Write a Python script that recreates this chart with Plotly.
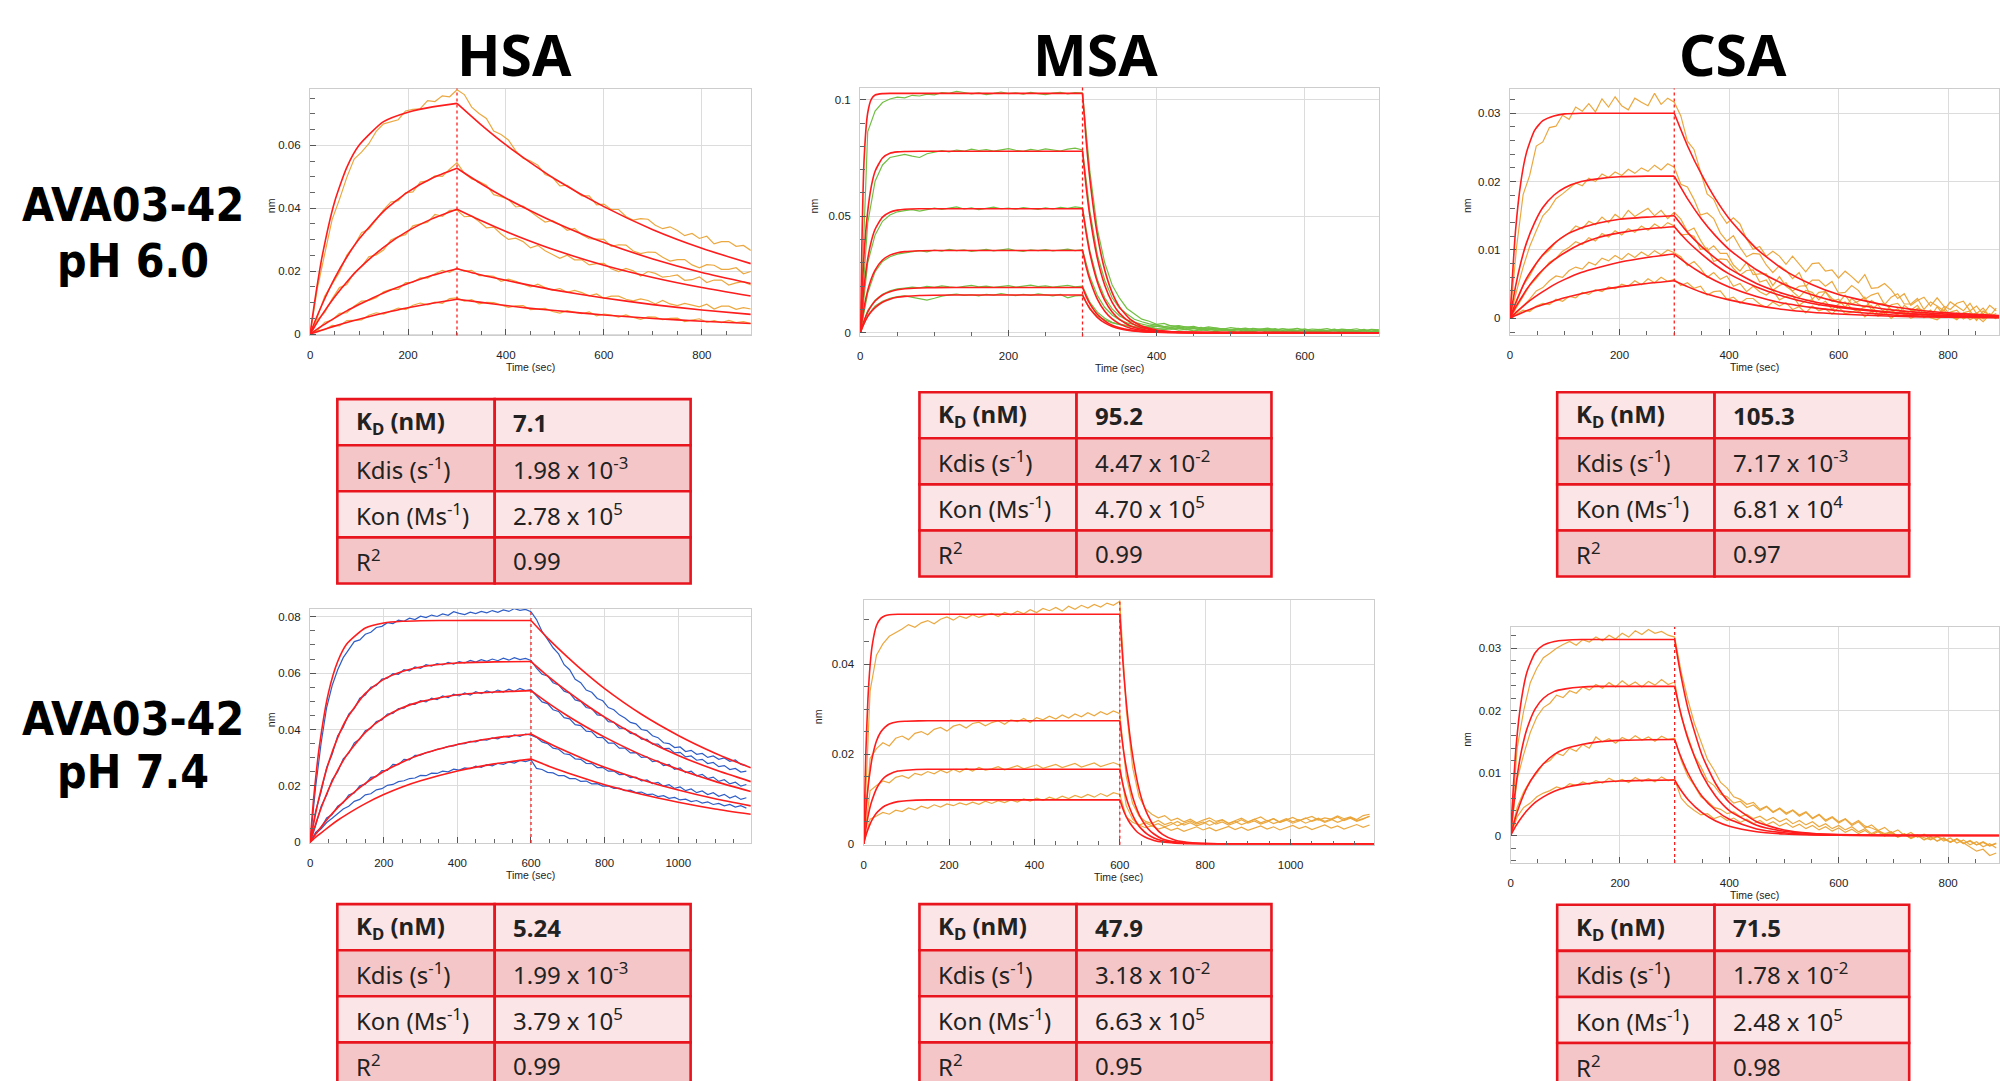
import plotly.graph_objects as go

W, H = 2000, 1081
U = 1e-4  # all curve values below are in units of 1e-4 nm

# ---------------- HSA pH 6.0 ----------------
HSA6_RAW_STEP = 15
HSA6_RAW = [
    [0,146,256,364,428,498,556,578,605,644,668,675,681,709,714,716,742,739,757,754,776,761,721,701,685,645,634,617,582,559,550,537,507,498,471,473,455,439,439,411,413,396,396,374,362,367,365,346,335,341,329,313,320,304,311,287,294,294,279,282,266],
    [3,55,121,160,197,251,281,322,334,364,395,420,424,449,452,483,487,503,501,524,545,511,493,485,473,443,437,428,404,407,388,372,356,361,348,330,336,316,303,303,301,279,284,283,264,256,261,260,244,232,237,237,220,211,221,219,206,206,211,192,199],
    [-2,46,69,112,148,158,195,215,246,252,267,299,310,316,344,350,356,380,374,393,394,373,375,358,338,340,318,301,305,294,274,282,265,253,241,251,236,236,220,224,225,208,199,209,201,185,199,193,181,184,188,171,173,182,164,172,172,156,163,167,156],
    [1,12,38,45,66,68,89,105,107,116,135,142,142,164,165,179,178,192,203,196,210,200,203,186,186,184,168,175,168,158,150,159,148,140,145,133,139,132,122,128,114,121,121,111,106,112,107,96,107,96,91,98,93,87,95,80,89,89,79,84,80],
    [0,11,14,28,26,43,44,45,60,68,64,74,83,78,92,99,93,102,98,113,115,105,110,96,101,100,92,85,90,91,78,81,82,72,67,75,71,65,71,58,64,61,54,61,53,47,55,54,46,50,51,40,45,49,38,43,37,44,37,40,34],
]
HSA6_FIT_T_ON = [0, 10, 25, 50, 75, 100, 150, 200, 250, 300]
HSA6_FIT_ON = [
    [0, 110, 250, 420, 530, 600, 675, 705, 722, 733],
    [0, 41, 96, 177, 245, 302, 390, 452, 496, 527],
    [0, 26, 63, 118, 166, 208, 276, 328, 367, 397],
    [0, 11, 27, 51, 74, 94, 131, 161, 187, 208],
    [0, 5.5, 13, 25.6, 37, 47.6, 67, 84, 98, 111],
]
HSA6_FIT_T_OFF = [300, 350, 400, 450, 500, 600, 700, 800, 900]
HSA6_FIT_OFF = [
    [733, 664, 601, 545, 493, 405, 332, 273, 224],
    [527, 477, 432, 392, 355, 291, 239, 196, 161],
    [397, 360, 326, 295, 267, 219, 180, 148, 121],
    [208, 188, 171, 155, 140, 115, 94, 77, 63],
    [111, 101, 91, 82, 75, 61, 50, 41, 34],
]

# ---------------- MSA pH 6.0 ----------------
MSA6_RAW_STEP = 10
MSA6_RAW = [
    [0,862,951,988,1003,1011,1008,1019,1016,1024,1021,1030,1027,1036,1031,1025,1029,1022,1027,1033,1026,1029,1024,1031,1026,1022,1028,1032,1025,1030,1028,
     690,445,300,205,148,104,80,58,49,36,40,28,31,24,27,19,25,21,16,22,18,13,19,15,20,12,17,14,19,11,16,13,18,10,15,12,17,9,14,12],
    [0,470,650,720,752,760,765,758,752,768,775,781,776,784,779,788,782,786,779,785,790,783,778,787,782,789,784,780,788,792,784,
     520,335,225,150,105,80,58,47,38,33,26,30,22,25,18,23,15,20,17,12,19,14,10,16,13,18,9,14,11,16,8,13,10,15,7,12,9,14,6,11],
    [0,300,420,478,505,519,524,528,522,530,535,529,533,540,531,536,528,534,539,532,535,530,537,533,529,536,531,538,534,540,536,
     350,228,150,102,72,55,44,37,30,34,26,22,27,19,23,17,21,14,18,12,16,20,13,9,15,11,17,10,7,13,9,14,6,11,8,13,5,10,7,12],
    [0,170,262,306,326,337,343,349,352,347,355,350,358,352,356,349,354,358,351,355,360,353,349,356,352,357,351,355,359,352,356,
     240,160,108,76,55,42,34,30,24,28,21,17,22,15,19,13,17,11,15,9,14,10,6,12,8,13,5,10,7,12,4,9,6,11,3,8,5,10,2,7],
    [0,95,140,165,180,188,192,196,193,199,195,201,197,194,199,203,197,200,195,199,202,196,200,204,198,201,196,199,203,197,200,
     130,88,62,45,35,30,24,19,22,16,13,17,11,14,8,12,9,5,10,7,3,8,5,10,2,6,3,8,1,5,2,7,-1,4,1,6,-2,3,0,5],
    [0,75,115,135,148,155,158,152,146,140,148,157,162,166,160,163,158,165,161,168,163,159,165,160,167,162,158,164,150,158,160,
     100,72,55,42,36,31,26,22,25,18,21,15,19,13,17,11,15,9,13,8,12,6,10,13,7,11,4,9,6,10,3,8,5,9,2,7,4,8,3,6],
]
MSA6_FIT_T_ON = [0, 5, 10, 15, 20, 30, 40, 50, 60, 80, 100, 150, 300]
MSA6_FIT_ON = [
    [0, 732, 943, 1003, 1020, 1026, 1027, 1027, 1027, 1027, 1027, 1027, 1027],
    [0, 330, 520, 630, 693, 750, 770, 776, 778, 779, 779, 779, 779],
    [0, 193, 316, 394, 444, 496, 517, 526, 530, 532, 532, 532, 532],
    [0, 107, 181, 233, 269, 312, 333, 343, 348, 352, 353, 353, 353],
    [0, 50, 88, 115, 136, 162, 176, 184, 189, 192, 193.5, 194, 194],
    [0, 39, 69, 91, 108, 131, 144, 152, 156, 160, 161, 162, 162],
]
MSA6_FIT_T_OFF = [300, 305, 310, 320, 330, 340, 350, 365, 380, 400, 430, 470, 700]
MSA6_FIT_OFF = [
    [1027, 822, 657, 420, 269, 172, 110, 56, 29, 12, 3, 0.5, 0],
    [779, 623, 499, 319, 204, 130, 83, 43, 22, 9, 2.3, 0.4, 0],
    [532, 426, 340, 218, 139, 89, 57, 29, 15, 6, 1.6, 0.3, 0],
    [353, 282, 226, 144, 92, 59, 38, 19, 10, 4, 1, 0.2, 0],
    [194, 155, 124, 79, 51, 32, 21, 11, 5.4, 2.2, 0.6, 0.1, 0],
    [162, 130, 104, 66, 42, 27, 17, 9, 4.5, 1.8, 0.5, 0.1, 0],
]

# ---------------- CSA pH 6.0 ----------------
CSA6_RAW_STEP = 12
CSA6_RAW = [
    [0,104,181,209,252,258,279,281,297,291,309,303,314,302,321,309,324,311,305,322,316,311,329,313,322,316,
     296,259,247,216,182,174,153,139,147,138,116,101,105,91,98,91,79,91,79,68,80,81,69,71,59,69,61,52,64,44,45,51,42,29,36,19,26,31,18,30,18,13,22,25,11,18,6,19,11],
    [0,40,75,105,128,150,160,175,182,190,198,194,205,200,211,206,214,209,218,212,220,215,224,217,226,221,
     196,192,174,151,154,146,125,113,121,104,90,95,94,78,67,77,70,58,67,47,56,56,47,54,37,38,48,41,28,34,37,20,31,36,21,21,29,13,24,18,11,24,17,11,22,7,15,3,15],
    [0,25,48,62,80,92,100,112,118,125,135,131,142,137,148,140,152,145,158,149,155,161,150,158,146,155,
     145,127,132,114,99,106,95,95,78,69,82,64,65,65,48,61,47,40,47,48,28,38,39,29,23,34,21,25,31,12,21,22,13,5,19,12,19,5,12,1,17,4,-1,8,11,-1,2,7,-1],
    [0,15,32,48,58,70,82,88,98,104,112,108,118,113,124,119,128,122,131,126,135,129,138,132,140,135,
     122,123,120,101,103,83,87,86,73,63,70,71,53,56,41,48,52,39,31,41,38,27,39,25,28,16,29,21,16,26,20,7,20,22,11,6,15,11,2,17,5,9,12,1,8,-3,11,3,7],
    [0,8,18,28,40,45,55,62,60,70,75,72,82,78,88,84,92,86,95,89,97,91,99,93,100,96,
     90,77,83,73,60,67,57,62,47,51,39,47,39,34,41,27,32,34,19,26,27,19,25,13,21,24,14,10,18,19,5,13,9,14,5,11,13,1,7,3,12,3,8,-1,5,8,-1,5,0],
    [0,6,12,10,18,22,20,28,25,32,30,38,35,42,39,46,43,50,47,55,49,58,52,60,54,57,
     48,52,44,47,34,39,40,28,31,22,29,29,21,16,24,18,23,13,17,8,18,11,14,6,16,7,9,13,2,10,3,10,0,7,9,0,4,9,1,-2,5,3,-2,7,-2,3,-5,5,0],
]
CSA6_FIT_T_ON = [0, 10, 20, 30, 45, 60, 80, 100, 130, 160, 200, 250, 300]
CSA6_FIT_ON = [
    [0, 127, 200, 242, 275, 289, 296, 299, 300, 300, 300, 300, 300],
    [0, 46, 82, 110, 140, 162, 180, 191, 200, 204, 207, 208, 208],
    [0, 22, 41, 58, 77, 93, 109, 121, 132, 139, 145, 148, 150],
    [0, 16, 29, 42, 58, 71, 85, 96, 109, 118, 125, 131, 134],
    [0, 8, 15, 22, 31, 39, 49, 57, 67, 74, 82, 89, 94],
    [0, 4, 7.5, 11, 16, 20, 25, 30, 36, 41, 46, 51, 55],
]
CSA6_FIT_T_OFF = [300, 325, 350, 375, 400, 450, 500, 550, 600, 700, 800, 893]
CSA6_FIT_OFF = [
    [300, 251, 210, 175, 146, 102, 71, 50, 35, 17, 8, 4],
    [208, 174, 145, 121, 101, 71, 50, 35, 24, 12, 6, 3],
    [150, 125, 105, 88, 73, 51, 36, 25, 17.5, 8.5, 4, 2],
    [134, 112, 94, 78, 65, 46, 32, 22, 16, 8, 4, 2],
    [94, 79, 66, 55, 46, 32, 22, 16, 11, 5, 2.6, 1.3],
    [55, 46, 38, 32, 27, 19, 13, 9, 6.4, 3, 1.5, 0.8],
]

# ---------------- HSA pH 7.4 ----------------
HSA74_RAW_STEP = 15
HSA74_RAW = [
    [0,195,352,478,556,612,655,683,712,718,738,745,762,766,779,776,788,784,795,790,802,797,806,801,810,805,818,812,808,816,811,819,814,822,816,824,819,829,823,826,818,
     790,748,720,690,668,630,612,578,566,540,532,510,502,478,470,452,441,425,420,400,396,378,371,353,350,336,338,322,326,312,315,301,306,294,299,287,292,276,272],
    [0,110,180,265,312,378,408,455,474,511,522,550,556,579,582,598,596,612,608,622,617,630,625,634,629,638,632,641,636,645,639,648,642,650,644,653,646,655,648,652,645,
     618,596,590,566,558,536,529,505,500,478,474,452,449,428,426,405,404,386,384,366,365,348,348,332,333,317,319,303,306,291,294,279,283,268,272,258,262,249,252],
    [0,58,128,168,222,250,296,316,352,366,396,404,428,434,455,457,474,476,490,489,502,498,511,506,519,513,525,519,530,522,534,527,537,530,540,533,543,535,546,538,541,
     520,498,492,470,464,442,438,417,414,394,392,372,371,352,352,334,334,317,318,301,303,286,289,272,276,259,264,247,252,236,241,226,231,216,222,207,213,199,205],
    [0,35,52,86,98,128,140,168,175,200,206,230,233,254,255,276,275,294,292,308,309,318,322,330,333,340,342,349,350,358,356,364,362,370,367,376,372,381,376,384,380,
     372,356,350,334,330,314,311,296,294,280,279,265,265,252,253,240,241,229,231,218,221,208,212,199,204,191,196,183,189,176,182,169,176,163,170,157,164,152,158],
    [0,30,48,70,85,102,118,128,145,152,168,172,186,190,202,205,215,218,226,228,237,236,245,244,252,250,259,256,264,261,270,266,275,271,280,276,285,281,290,286,292,
     262,258,248,246,236,236,226,226,216,217,207,208,199,200,191,192,183,185,176,178,169,171,162,165,156,159,150,153,144,148,139,143,134,138,129,134,125,130,121],
]
HSA74_FIT_T_ON = [0, 10, 25, 50, 75, 100, 150, 200, 250, 300, 400, 500, 600]
HSA74_FIT_ON = [
    [0, 159, 338, 531, 641, 704, 760, 778, 784, 786, 787, 787, 787],
    [0, 70, 161, 281, 371, 439, 528, 578, 606, 622, 636, 640, 641],
    [0, 44, 103, 187, 255, 310, 390, 442, 477, 499, 523, 533, 538],
    [0, 19, 46, 87, 123, 155, 209, 251, 284, 311, 347, 370, 384],
    [0, 12, 28, 54, 78, 99, 137, 169, 196, 218, 253, 278, 295],
]
HSA74_FIT_T_OFF = [600, 650, 700, 750, 800, 900, 1000, 1100, 1197]
HSA74_FIT_OFF = [
    [787, 718, 656, 598, 545, 454, 379, 316, 264],
    [641, 585, 534, 487, 444, 370, 308, 257, 215],
    [538, 491, 448, 409, 373, 310, 259, 216, 180],
    [384, 350, 320, 292, 266, 222, 185, 154, 129],
    [295, 269, 246, 224, 204, 170, 142, 118, 99],
]

# ---------------- MSA pH 7.4 ----------------
MSA74_RAW_STEP = 15
MSA74_RAW = [
    [0,340,420,445,462,470,478,488,482,492,497,490,500,505,498,507,502,510,504,509,513,506,515,510,518,512,521,515,524,519,526,518,529,522,531,525,533,527,536,531,540,
     300,170,105,78,66,58,63,52,57,49,55,47,53,58,50,54,46,52,57,49,55,60,51,56,48,54,59,52,57,61,53,58,55,62,56,60,54,63,66],
    [0,190,212,225,218,235,240,232,246,250,243,255,259,251,262,266,258,268,271,263,270,274,266,276,272,279,270,281,276,284,278,287,280,289,283,292,285,294,288,296,290,
     150,90,62,50,45,52,43,48,40,46,51,44,49,41,47,53,45,50,43,48,55,47,52,45,50,56,49,54,46,52,57,50,55,48,53,59,52,57,61],
    [0,118,130,140,136,148,152,146,157,153,161,156,164,158,166,160,168,162,170,164,167,172,165,170,174,167,172,176,168,173,177,170,175,179,171,176,180,172,177,181,175,
     85,55,42,36,40,33,37,30,35,28,33,38,31,36,29,34,39,32,37,30,35,40,33,38,31,36,41,34,39,32,37,42,35,40,33,38,43,37,42],
    [0,55,62,70,66,75,72,80,76,84,79,87,82,89,85,91,87,93,88,95,90,96,92,98,93,100,95,102,97,104,99,106,101,108,103,110,104,112,106,114,110,
     60,48,42,47,40,45,38,43,50,42,47,40,45,52,44,49,42,47,54,46,51,44,49,56,48,53,46,51,58,50,55,48,53,60,52,57,50,55,62],
]
MSA74_FIT_T_ON = [0, 5, 10, 15, 20, 30, 40, 50, 60, 80, 100, 150, 600]
MSA74_FIT_ON = [
    [0, 201, 323, 397, 442, 486, 502, 508, 510, 511, 511, 511, 511],
    [0, 71, 124, 162, 192, 229, 249, 260, 267, 272, 273, 274, 274],
    [0, 33, 60, 82, 98, 123, 139, 149, 155, 162, 164, 166, 166],
    [0, 18, 32, 44, 54, 68.5, 78, 85, 89, 94, 96, 98, 98],
]
MSA74_FIT_T_OFF = [600, 605, 610, 620, 630, 640, 650, 665, 680, 700, 730, 770, 830, 1196]
MSA74_FIT_OFF = [
    [511, 436, 371, 270, 197, 143, 104, 65, 40, 21, 8, 2.3, 0.4, 0],
    [274, 234, 199, 145, 105, 77, 56, 35, 22, 11, 4.4, 1.2, 0.2, 0],
    [166, 142, 121, 88, 64, 46, 34, 21, 13, 7, 2.7, 0.7, 0.1, 0],
    [98, 84, 71, 52, 38, 27, 20, 12.4, 7.7, 4, 1.6, 0.4, 0.1, 0],
]

# ---------------- CSA pH 7.4 ----------------
CSA74_RAW_STEP = 12
CSA74_RAW = [
    [0,140,200,245,268,285,292,300,306,311,305,314,310,318,312,321,315,324,318,328,322,330,324,327,321,318,
     262,218,180,150,122,105,85,76,62,58,50,53,42,47,38,44,36,41,33,38,28,34,25,30,22,27,18,24,15,12,8,3,6,-1,2,-4,0,-3,-7,-2,-6,-10,-5,-12,-18,-25,-22,-32,-28],
    [0,90,130,165,190,205,212,225,221,232,228,238,233,242,236,245,238,248,240,246,238,247,241,250,242,246,
     190,160,128,110,88,80,66,62,52,55,45,49,40,46,37,43,34,40,31,37,27,33,23,29,20,26,16,22,12,17,8,13,4,9,0,5,-3,2,-6,-1,-9,-4,-12,-7,-15,-10,-18,-13,-20],
    [0,45,70,88,100,115,120,132,128,140,135,146,140,158,150,155,148,157,152,160,153,158,151,159,154,156,
     120,95,80,62,55,45,42,35,38,30,34,27,31,24,29,22,27,19,24,17,22,14,19,11,16,9,14,6,11,3,8,1,6,-2,3,-4,1,-7,-2,-9,-4,-11,-6,-13,-9,-15,-11,-17,-13],
    [0,30,45,52,62,68,72,78,75,83,80,86,82,88,84,92,86,90,85,93,87,91,86,94,88,90,
     60,48,40,33,35,27,31,24,28,21,26,19,24,17,22,15,20,13,18,11,16,9,14,7,12,5,10,3,8,1,6,-1,4,-3,2,-5,0,-7,-2,-9,-4,-11,-6,-13,-8,-15,-10,-16,-12],
]
CSA74_FIT_T_ON = [0, 10, 20, 30, 45, 60, 80, 100, 130, 160, 200, 250, 300]
CSA74_FIT_ON = [
    [0, 142, 219, 262, 293, 305, 311, 313, 314, 314, 314, 314, 314],
    [0, 82, 136, 171, 203, 220, 231, 235, 238, 239, 239, 239, 239],
    [0, 32, 57, 77, 99, 115, 130, 139, 146, 150, 152.5, 153.5, 154],
    [0, 16, 29, 40, 53, 62, 71, 77, 82, 85, 87.4, 88.4, 89],
]
CSA74_FIT_T_OFF = [300, 310, 325, 350, 375, 400, 450, 500, 550, 600, 700, 893]
CSA74_FIT_OFF = [
    [314, 263, 201, 129, 83, 53, 22, 9, 3.7, 1.5, 0.3, 0],
    [239, 200, 153, 98, 63, 40, 16.5, 6.8, 2.8, 1.1, 0.2, 0],
    [154, 129, 99, 63, 40.5, 26, 10.6, 4.4, 1.8, 0.7, 0.1, 0],
    [89, 74.5, 57, 36.6, 23.4, 15, 6.1, 2.5, 1, 0.4, 0.1, 0],
]

# ---------------- text ----------------
COLUMN_TITLES = ["HSA", "MSA", "CSA"]
ROW_TITLES = [["AVA03-42", "pH 6.0"], ["AVA03-42", "pH 7.4"]]
TABLE_LABELS = ["<b>K<sub>D</sub> (nM)</b>", "Kdis (s<sup>-1</sup>)", "Kon (Ms<sup>-1</sup>)", "R<sup>2</sup>"]
TABLE_VALUES = [
    ["<b>7.1</b>", "1.98 x 10<sup>-3</sup>", "2.78 x 10<sup>5</sup>", "0.99"],
    ["<b>95.2</b>", "4.47 x 10<sup>-2</sup>", "4.70 x 10<sup>5</sup>", "0.99"],
    ["<b>105.3</b>", "7.17 x 10<sup>-3</sup>", "6.81 x 10<sup>4</sup>", "0.97"],
    ["<b>5.24</b>", "1.99 x 10<sup>-3</sup>", "3.79 x 10<sup>5</sup>", "0.99"],
    ["<b>47.9</b>", "3.18 x 10<sup>-2</sup>", "6.63 x 10<sup>5</sup>", "0.95"],
    ["<b>71.5</b>", "1.78 x 10<sup>-2</sup>", "2.48 x 10<sup>5</sup>", "0.98"],
]

# ---------------- style / layout ----------------
ORANGE = "rgba(234,163,54,0.95)"
GREEN = "#72BF44"
BLUE = "#2F5EC6"
RED = "#FF1C1C"
TICK_FONT = dict(family="Liberation Sans, Arial, sans-serif", size=11.5, color="#222")
SMALL_FONT = dict(family="Liberation Sans, Arial, sans-serif", size=10.5, color="#222")

PANELS = [
    dict(raw=HSA6_RAW, step=HSA6_RAW_STEP, ton=HSA6_FIT_T_ON, on=HSA6_FIT_ON, toff=HSA6_FIT_T_OFF, off=HSA6_FIT_OFF,
         color=ORANGE, mark=300, box=(307.7, 749.3, 89, 337), xr=[0, 900], yr=[-0.0004, 0.078], ydt=0.02, ymin=0.005, nm_dx=39),
    dict(raw=MSA6_RAW, step=MSA6_RAW_STEP, ton=MSA6_FIT_T_ON, on=MSA6_FIT_ON, toff=MSA6_FIT_T_OFF, off=MSA6_FIT_OFF,
         color=GREEN, mark=300, box=(859, 1378.6, 88, 338), xr=[0, 700], yr=[-0.0016, 0.1052], ydt=0.05, ymin=0.01, nm_dx=46),
    dict(raw=CSA6_RAW, step=CSA6_RAW_STEP, ton=CSA6_FIT_T_ON, on=CSA6_FIT_ON, toff=CSA6_FIT_T_OFF, off=CSA6_FIT_OFF,
         color=ORANGE, mark=300, box=(1510, 2000, 89, 337), xr=[0, 893], yr=[-0.0025, 0.0336], ydt=0.01, ymin=0.002, nm_dx=43),
    dict(raw=HSA74_RAW, step=HSA74_RAW_STEP, ton=HSA74_FIT_T_ON, on=HSA74_FIT_ON, toff=HSA74_FIT_T_OFF, off=HSA74_FIT_OFF,
         color=BLUE, mark=600, box=(307.7, 749.3, 611.7, 847), xr=[0, 1197], yr=[-0.0003, 0.0828], ydt=0.02, ymin=0.005, nm_dx=39),
    dict(raw=MSA74_RAW, step=MSA74_RAW_STEP, ton=MSA74_FIT_T_ON, on=MSA74_FIT_ON, toff=MSA74_FIT_T_OFF, off=MSA74_FIT_OFF,
         color=ORANGE, mark=600, box=(862.4, 1374, 602.7, 848.7), xr=[0, 1196], yr=[-0.0002, 0.0543], ydt=0.02, ymin=0.005, nm_dx=45),
    dict(raw=CSA74_RAW, step=CSA74_RAW_STEP, ton=CSA74_FIT_T_ON, on=CSA74_FIT_ON, toff=CSA74_FIT_T_OFF, off=CSA74_FIT_OFF,
         color=ORANGE, mark=300, box=(1510.6, 2000, 630, 867), xr=[0, 893], yr=[-0.0044, 0.0334], ydt=0.01, ymin=0.002, nm_dx=44),
]

TABLE_POS = [  # left, divider, right, top (pixels)
    (335, 492.7, 689, 401), (918.3, 1075.7, 1271, 394), (1557.3, 1715, 1910, 394),
    (335, 492.7, 689, 908.3), (918.3, 1075.7, 1271, 908.3), (1557.3, 1715, 1910, 909),
]
ROW_H = 46.3
ROW_FILLS = ["#FCE5E6", "#F5C6C8", "#FCE5E6", "#F5C6C8"]
BORDER = "#E8141E"


def fx(x):
    return x / W


def fy(y):
    return 1 - y / H


fig = go.Figure()
layout = dict(width=W, height=H, margin=dict(l=0, r=0, t=0, b=0), paper_bgcolor="white",
              plot_bgcolor="white", showlegend=False)
shapes, annotations = [], []

for n, p in enumerate(PANELS, start=1):
    sfx = "" if n == 1 else str(n)
    xa, ya = "x" + sfx, "y" + sfx
    x0, x1, y0, y1 = p["box"]
    common = dict(showgrid=True, gridcolor="#DCDCDC", gridwidth=1.4, showline=True, linecolor="#CDCDCD",
                  linewidth=1.4, mirror=True, zeroline=False, ticks="inside", ticklen=6, tickwidth=1,
                  tickcolor="#555", tickfont=TICK_FONT, tick0=0, fixedrange=True)
    layout["xaxis" + sfx] = dict(common, domain=[fx(x0), min(1.0, fx(x1))], anchor=ya, range=p["xr"], dtick=200,
                                 minor=dict(dtick=50, tick0=0, ticks="inside", ticklen=4, tickcolor="#666", showgrid=False),
                                 ticklabelstandoff=9)
    layout["yaxis" + sfx] = dict(common, domain=[fy(y1), fy(y0)], anchor=xa, range=p["yr"], dtick=p["ydt"],
                                 minor=dict(dtick=p["ymin"], tick0=0, ticks="inside", ticklen=5, tickcolor="#666", showgrid=False),
                                 ticklabelstandoff=6)
    for tr in p["raw"]:
        fig.add_trace(go.Scatter(x=[i * p["step"] for i in range(len(tr))], y=[v * U for v in tr], xaxis=xa, yaxis=ya,
                                 mode="lines", line=dict(color=p["color"], width=1.2), hoverinfo="skip"))
    for t, group in ((p["ton"], p["on"]), (p["toff"], p["off"])):
        for tr in group:
            fig.add_trace(go.Scatter(x=t, y=[v * U for v in tr], xaxis=xa, yaxis=ya, mode="lines",
                                     line=dict(color=RED, width=1.6, shape="spline", smoothing=0.6), hoverinfo="skip"))
    shapes.append(dict(type="line", xref=xa, yref=ya + " domain", x0=p["mark"], x1=p["mark"], y0=0, y1=1,
                       line=dict(color=RED, width=1.3, dash="dot")))
    annotations.append(dict(text="Time (sec)", xref="paper", yref="paper", x=fx((x0 + x1) / 2), y=fy(y1 + 32),
                            showarrow=False, font=SMALL_FONT, xanchor="center", yanchor="middle"))
    annotations.append(dict(text="nm", xref="paper", yref="paper", x=fx(x0 - p["nm_dx"]), y=fy((y0 + y1) / 2 - 6),
                            showarrow=False, font=SMALL_FONT, textangle=-90, xanchor="center", yanchor="middle"))

# column titles
for title, cx in zip(COLUMN_TITLES, [513, 1095, 1733]):
    annotations.append(dict(text="<b>%s</b>" % title, xref="paper", yref="paper", x=fx(cx), y=fy(54),
                            showarrow=False, xanchor="center", yanchor="middle",
                            font=dict(family="Noto Sans, Open Sans, sans-serif", size=57, color="#000")))
# row titles
for lines, ys in zip(ROW_TITLES, [(206, 262), (722, 776)]):
    for txt, yy in zip(lines, ys):
        annotations.append(dict(text="<b>%s</b>" % txt, xref="paper", yref="paper", x=fx(130.5), y=fy(yy),
                                showarrow=False, xanchor="center", yanchor="middle",
                                font=dict(family="DejaVu Sans Condensed, DejaVu Sans, sans-serif", size=46, color="#000")))

# tables
TABLE_FONT = dict(family="Noto Sans, Open Sans, sans-serif", size=24, color="#222")
for (lx, dx, rx, top), vals in zip(TABLE_POS, TABLE_VALUES):
    for r in range(4):
        ya0, ya1 = top + r * ROW_H, top + (r + 1) * ROW_H
        for cx0, cx1 in ((lx, dx), (dx, rx)):
            shapes.append(dict(type="rect", xref="paper", yref="paper", x0=fx(cx0), x1=fx(cx1), y0=fy(ya1), y1=fy(ya0),
                               fillcolor=ROW_FILLS[r], line=dict(color=BORDER, width=2.6), layer="above"))
        ym = (ya0 + ya1) / 2
        annotations.append(dict(text=TABLE_LABELS[r], xref="paper", yref="paper", x=fx(lx + 17), y=fy(ym),
                                showarrow=False, xanchor="left", yanchor="middle", font=TABLE_FONT))
        annotations.append(dict(text=vals[r], xref="paper", yref="paper", x=fx(dx + 16), y=fy(ym),
                                showarrow=False, xanchor="left", yanchor="middle", font=TABLE_FONT))

layout["shapes"] = shapes
layout["annotations"] = annotations
fig.update_layout(**layout)
fig.write_html("out.html", config={"displayModeBar": False},
               post_script="document.body.style.margin='0px';document.body.style.overflow='hidden';")
